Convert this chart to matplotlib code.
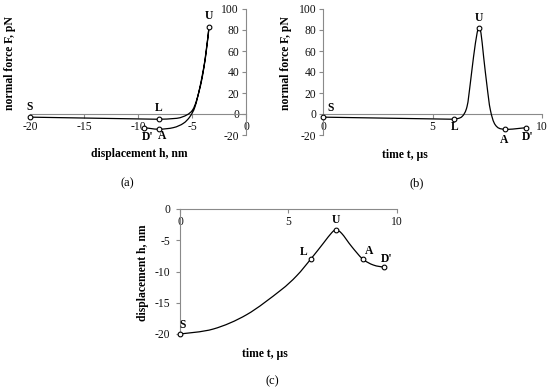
import matplotlib
matplotlib.use("Agg")
import matplotlib.pyplot as plt
from matplotlib.path import Path
from matplotlib.patches import PathPatch

# ---------------- data ----------------
# panel (a): force vs displacement
a_line_h = [-20.0, -8.1]                 # S -> L (straight)
a_line_F = [-3.0, -5.0]
a_curve_h = [-8.1, -6.4, -5.5, -4.95, -4.57, -4.1, -3.7, -3.43,
             -3.8, -4.26, -4.72, -5.19, -5.8, -6.73, -8.1, -9.4]
a_curve_F = [-5.0, -4.1, -1.0, 3.8, 13.3, 32.4, 57.8, 82.5,
             51.4, 26.0, 7.0, -2.5, -8.9, -13.0, -14.5, -13.0]
a_pts_h = [-20.0, -8.1, -3.43, -8.1, -9.4]
a_pts_F = [-3.0, -5.0, 82.5, -14.5, -13.0]

# panel (b): force vs time
b_line_t = [0.0, 6.0]
b_line_F = [-3.0, -5.0]
b_curve_t = [6.0, 6.35, 6.58, 6.73, 6.88, 7.04, 7.13, 7.22, 7.34, 7.5,
             7.65, 7.88, 8.3, 9.3]
b_curve_F = [-5.0, -2.5, 7.0, 29.0, 54.6, 76.9, 81.6, 77.0, 54.6, 26.0,
             3.8, -10.5, -14.6, -13.0]
b_pts_t = [0.0, 6.0, 7.13, 8.3, 9.3]
b_pts_F = [-3.0, -5.0, 81.6, -14.6, -13.0]

# panel (c): displacement vs time
c_curve_t = [0.0, 1.54, 3.08, 4.61, 5.38, 6.05, 6.61, 7.0, 7.2, 7.46,
             7.92, 8.43, 8.92, 9.43]
c_curve_h = [-20.0, -19.2, -16.9, -13.1, -10.7, -7.95, -5.5, -3.8, -3.36,
             -3.9, -6.0, -8.0, -8.96, -9.33]
c_pts_t = [0.0, 6.05, 7.2, 8.43, 9.43]
c_pts_h = [-20.0, -7.95, -3.36, -8.0, -9.33]

point_names = ["S", "L", "U", "A", "D'"]

# ---------------- style ----------------
plt.rcParams['font.family'] = ['Liberation Serif', 'DejaVu Serif']
plt.rcParams['axes.unicode_minus'] = False
AX_COL = '#8a8a8a'
TICK_FS = 8.4
LAB_FS = 8.4
PT_FS = 8.4
LW = 0.9

W, H = 550, 390
fig = plt.figure(figsize=(W / 100, H / 100), dpi=100)


def px_axes(x0, x1, y0, y1):
    """axes rectangle from pixel coords (x0 left, x1 right, y0 top, y1 bottom)."""
    return fig.add_axes([x0 / W, 1 - y1 / H, (x1 - x0) / W, (y1 - y0) / H])


def smooth(ax, xs, ys):
    """Excel-like smoothed line: cubic Bezier through the data points."""
    n = len(xs)
    verts = [(xs[0], ys[0])]
    codes = [Path.MOVETO]
    for i in range(n - 1):
        p0 = (xs[max(i - 1, 0)], ys[max(i - 1, 0)])
        p1 = (xs[i], ys[i])
        p2 = (xs[i + 1], ys[i + 1])
        p3 = (xs[min(i + 2, n - 1)], ys[min(i + 2, n - 1)])
        c1 = (p1[0] + (p2[0] - p0[0]) / 6, p1[1] + (p2[1] - p0[1]) / 6)
        c2 = (p2[0] - (p3[0] - p1[0]) / 6, p2[1] - (p3[1] - p1[1]) / 6)
        verts += [c1, c2, p2]
        codes += [Path.CURVE4] * 3
    ax.add_patch(PathPatch(Path(verts, codes), fill=False, lw=LW,
                           edgecolor='black', transform=ax.transData,
                           clip_on=False, zorder=3))


def style(ax, ycross_x):
    for s in ['top', 'right']:
        ax.spines[s].set_visible(False)
    ax.spines['bottom'].set_position(('data', 0))
    ax.spines['left'].set_position(('data', ycross_x))
    for s in ['bottom', 'left']:
        ax.spines[s].set_color(AX_COL)
        ax.spines[s].set_linewidth(0.8)
    ax.tick_params(axis='both', labelsize=TICK_FS, colors=AX_COL,
                   labelcolor='#111111', length=3, width=0.8, pad=2)
    ax.patch.set_visible(False)


def markers(ax, xs, ys):
    ax.plot(xs, ys, linestyle='none', marker='o', markersize=3.4,
            markerfacecolor='white', markeredgecolor='black',
            markeredgewidth=0.8, zorder=5, clip_on=False)


def labels(ax, xs, ys, offsets):
    for name, x, y, (dx, dy) in zip(point_names, xs, ys, offsets):
        ax.annotate(name, (x, y), xytext=(dx, dy), textcoords='offset points',
                    ha='center', va='center', fontsize=PT_FS,
                    fontweight='bold', annotation_clip=False)


k = 0.72  # px -> points

# ---------------- panel (a) ----------------
ax = px_axes(30, 246, 9, 135)
ax.set_xlim(-20, 0)
ax.set_ylim(-20, 100)
style(ax, 0)
ax.set_xticks([-20, -15, -10, -5, 0])
ax.set_yticks([-20, 0, 20, 40, 60, 80, 100])
ax.plot(a_line_h, a_line_F, color='black', lw=LW, zorder=3)
smooth(ax, a_curve_h, a_curve_F)
markers(ax, a_pts_h, a_pts_F)
labels(ax, a_pts_h, a_pts_F,
       [(0, 10 * k), (0, 11.5 * k), (0, 11.5 * k), (4 * k, -7 * k), (3 * k, -9 * k)])
fig.text(10 / W, 1 - 63 / H, 'normal force F, pN', rotation=90, ha='center',
         va='center', fontsize=LAB_FS, fontweight='bold')
fig.text(139 / W, 1 - 154 / H, 'displacement h, nm', ha='center', va='center',
         fontsize=LAB_FS, fontweight='bold')
fig.text(127 / W, 1 - 183 / H, '(a)', ha='center', va='center', fontsize=9)

# ---------------- panel (b) ----------------
ax = px_axes(323.3, 541.7, 9, 135)
ax.set_xlim(0, 10)
ax.set_ylim(-20, 100)
style(ax, 0)
ax.set_xticks([0, 5, 10])
ax.set_yticks([-20, 0, 20, 40, 60, 80, 100])
ax.plot(b_line_t, b_line_F, color='black', lw=LW, zorder=3)
smooth(ax, b_curve_t, b_curve_F)
markers(ax, b_pts_t, b_pts_F)
labels(ax, b_pts_t, b_pts_F,
       [(7 * k, 9 * k), (0, -8 * k), (0, 10 * k), (0, -11 * k), (1 * k, -9 * k)])
fig.text(286 / W, 1 - 63 / H, 'normal force F, pN', rotation=90, ha='center',
         va='center', fontsize=LAB_FS, fontweight='bold')
fig.text(405 / W, 1 - 155 / H, 'time t, µs', ha='center', va='center',
         fontsize=LAB_FS, fontweight='bold')
fig.text(417 / W, 1 - 183 / H, '(b)', ha='center', va='center', fontsize=9)

# ---------------- panel (c) ----------------
ax = px_axes(180, 396.7, 209, 334)
ax.set_xlim(0, 10)
ax.set_ylim(-20, 0)
style(ax, 0)
ax.set_xticks([0, 5, 10])
ax.set_yticks([-20, -15, -10, -5, 0])
ax.tick_params(axis='y', pad=4)
smooth(ax, c_curve_t, c_curve_h)
markers(ax, c_pts_t, c_pts_h)
labels(ax, c_pts_t, c_pts_h,
       [(3 * k, 9 * k), (-7 * k, 7 * k), (0, 10 * k), (6 * k, 8 * k), (2 * k, 8 * k)])
fig.text(143 / W, 1 - 273 / H, 'displacement h, nm', rotation=90, ha='center',
         va='center', fontsize=LAB_FS, fontweight='bold')
fig.text(265 / W, 1 - 354 / H, 'time t, µs', ha='center', va='center',
         fontsize=LAB_FS, fontweight='bold')
fig.text(272 / W, 1 - 381 / H, '(c)', ha='center', va='center', fontsize=9)

fig.savefig('out.png', dpi=100)
